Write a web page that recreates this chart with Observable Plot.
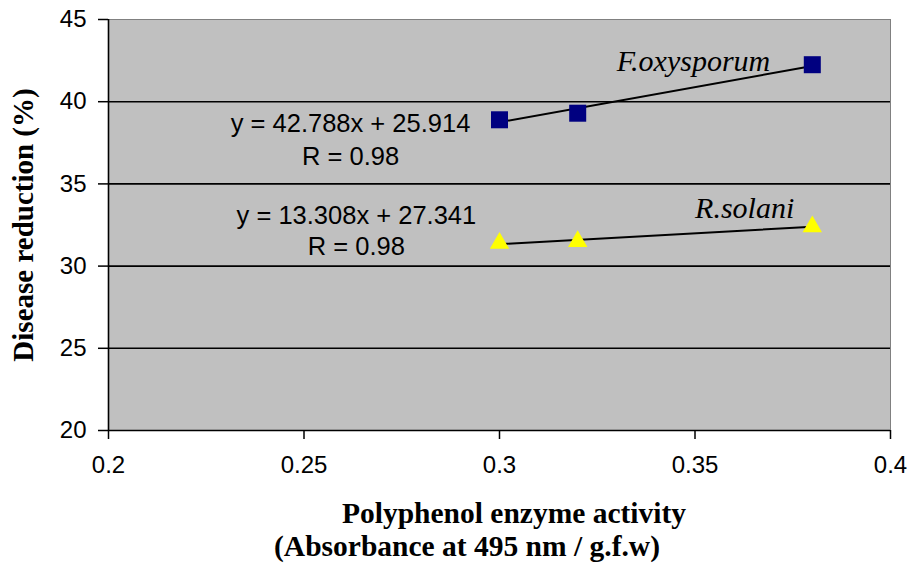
<!DOCTYPE html>
<html><head><meta charset="utf-8">
<script src="https://cdn.jsdelivr.net/npm/d3@7"></script>
<script src="https://cdn.jsdelivr.net/npm/@observablehq/plot@0.6"></script>
<style>body{margin:0;background:#fff}</style>
</head><body><div id="chart"></div>
<script>
const activity = [0.30, 0.32, 0.38];
const foxReduction = [38.9, 39.3, 42.25];
const rsoReduction = [31.4, 31.5, 32.4];
const seriesNames = ["F.oxysporum", "R.solani"];
const slopes = [42.788, 13.308];
const intercepts = [25.914, 27.341];
const equations = ["y = 42.788x + 25.914\nR = 0.98", "y = 13.308x + 27.341\nR = 0.98"];
const yTicks = [20, 25, 30, 35, 40, 45];
const xTicks = [0.2, 0.25, 0.3, 0.35, 0.4];
const gridValues = [25, 30, 35, 40];
const yTitle = "Disease reduction (%)";
const xTitle1 = "Polyphenol enzyme activity";
const xTitle2 = "(Absorbance at 495 nm / g.f.w)";

const fox = activity.map((x, i) => ({x, y: foxReduction[i]}));
const rso = activity.map((x, i) => ({x, y: rsoReduction[i]}));
const xmin = d3.min(activity), xmax = d3.max(activity);
const trend = (k) => [xmin, xmax].map(x => ({x, y: slopes[k] * x + intercepts[k]}));

const sans = "Arial, 'Liberation Sans', sans-serif";
const serif = "'Times New Roman', 'Liberation Serif', serif";

const chart = Plot.plot({
  width: 910, height: 567,
  marginLeft: 108, marginRight: 20, marginTop: 19, marginBottom: 137,
  style: {fontFamily: sans, background: "#fff", color: "#000"},
  x: {domain: [0.2, 0.4]},
  y: {domain: [20, 45]},
  marks: [
    Plot.frame({fill: "#c0c0c0", stroke: "#808080"}),
    Plot.ruleY(gridValues, {stroke: "#000", strokeWidth: 1.6}),
    Plot.ruleX([0.2], {stroke: "#000", strokeWidth: 1.6}),
    Plot.ruleY([20], {stroke: "#000", strokeWidth: 1.6}),
    Plot.axisY({ticks: yTicks, tickSize: 10, tickPadding: 12, fontSize: 24, label: null, strokeWidth: 1.5}),
    Plot.axisX({ticks: xTicks, tickSize: 9, tickPadding: 16, fontSize: 24, label: null, tickFormat: d => String(d), strokeWidth: 1.5}),
    Plot.line(trend(0), {x: "x", y: "y", stroke: "#000", strokeWidth: 2}),
    Plot.line(trend(1), {x: "x", y: "y", stroke: "#000", strokeWidth: 2}),
    Plot.dot(fox, {x: "x", y: "y", symbol: "square", r: 9.6, fill: "#000080", stroke: "none"}),
    Plot.dot(rso, {x: "x", y: "y", symbol: "triangle", r: 7.2, fill: "#ffff00", stroke: "none"}),
    Plot.text([equations[0]], {x: 0.2619, y: 37.8, text: d => d, fontSize: 25.5, lineHeight: 1.3, fill: "#000", textAnchor: "middle", fontFamily: sans}),
    Plot.text([equations[1]], {x: 0.2634, y: 32.2, text: d => d, fontSize: 25.5, lineHeight: 1.22, fill: "#000", textAnchor: "middle", fontFamily: sans}),
    Plot.text([seriesNames[0]], {x: 0.3496, y: 42.45, text: d => d, fontSize: 30, fontStyle: "italic", fontFamily: serif, fill: "#000"}),
    Plot.text([seriesNames[1]], {x: 0.3627, y: 33.5, text: d => d, fontSize: 30, fontStyle: "italic", fontFamily: serif, fill: "#000"}),
    Plot.text([yTitle], {frameAnchor: "left", rotate: -90, dx: -85, textAnchor: "middle", lineAnchor: "middle", text: d => d, fontSize: 29, fontWeight: "bold", fontFamily: serif, fill: "#000"}),
    Plot.text([xTitle1], {frameAnchor: "bottom", dx: 14.5, dy: 83, textAnchor: "middle", lineAnchor: "middle", text: d => d, fontSize: 29.5, fontWeight: "bold", fontFamily: serif, fill: "#000"}),
    Plot.text([xTitle2], {frameAnchor: "bottom", dx: -32.5, dy: 116, textAnchor: "middle", lineAnchor: "middle", text: d => d, fontSize: 29.5, fontWeight: "bold", fontFamily: serif, fill: "#000"})
  ]
});
document.getElementById("chart").appendChild(chart);
</script>
</body></html>
